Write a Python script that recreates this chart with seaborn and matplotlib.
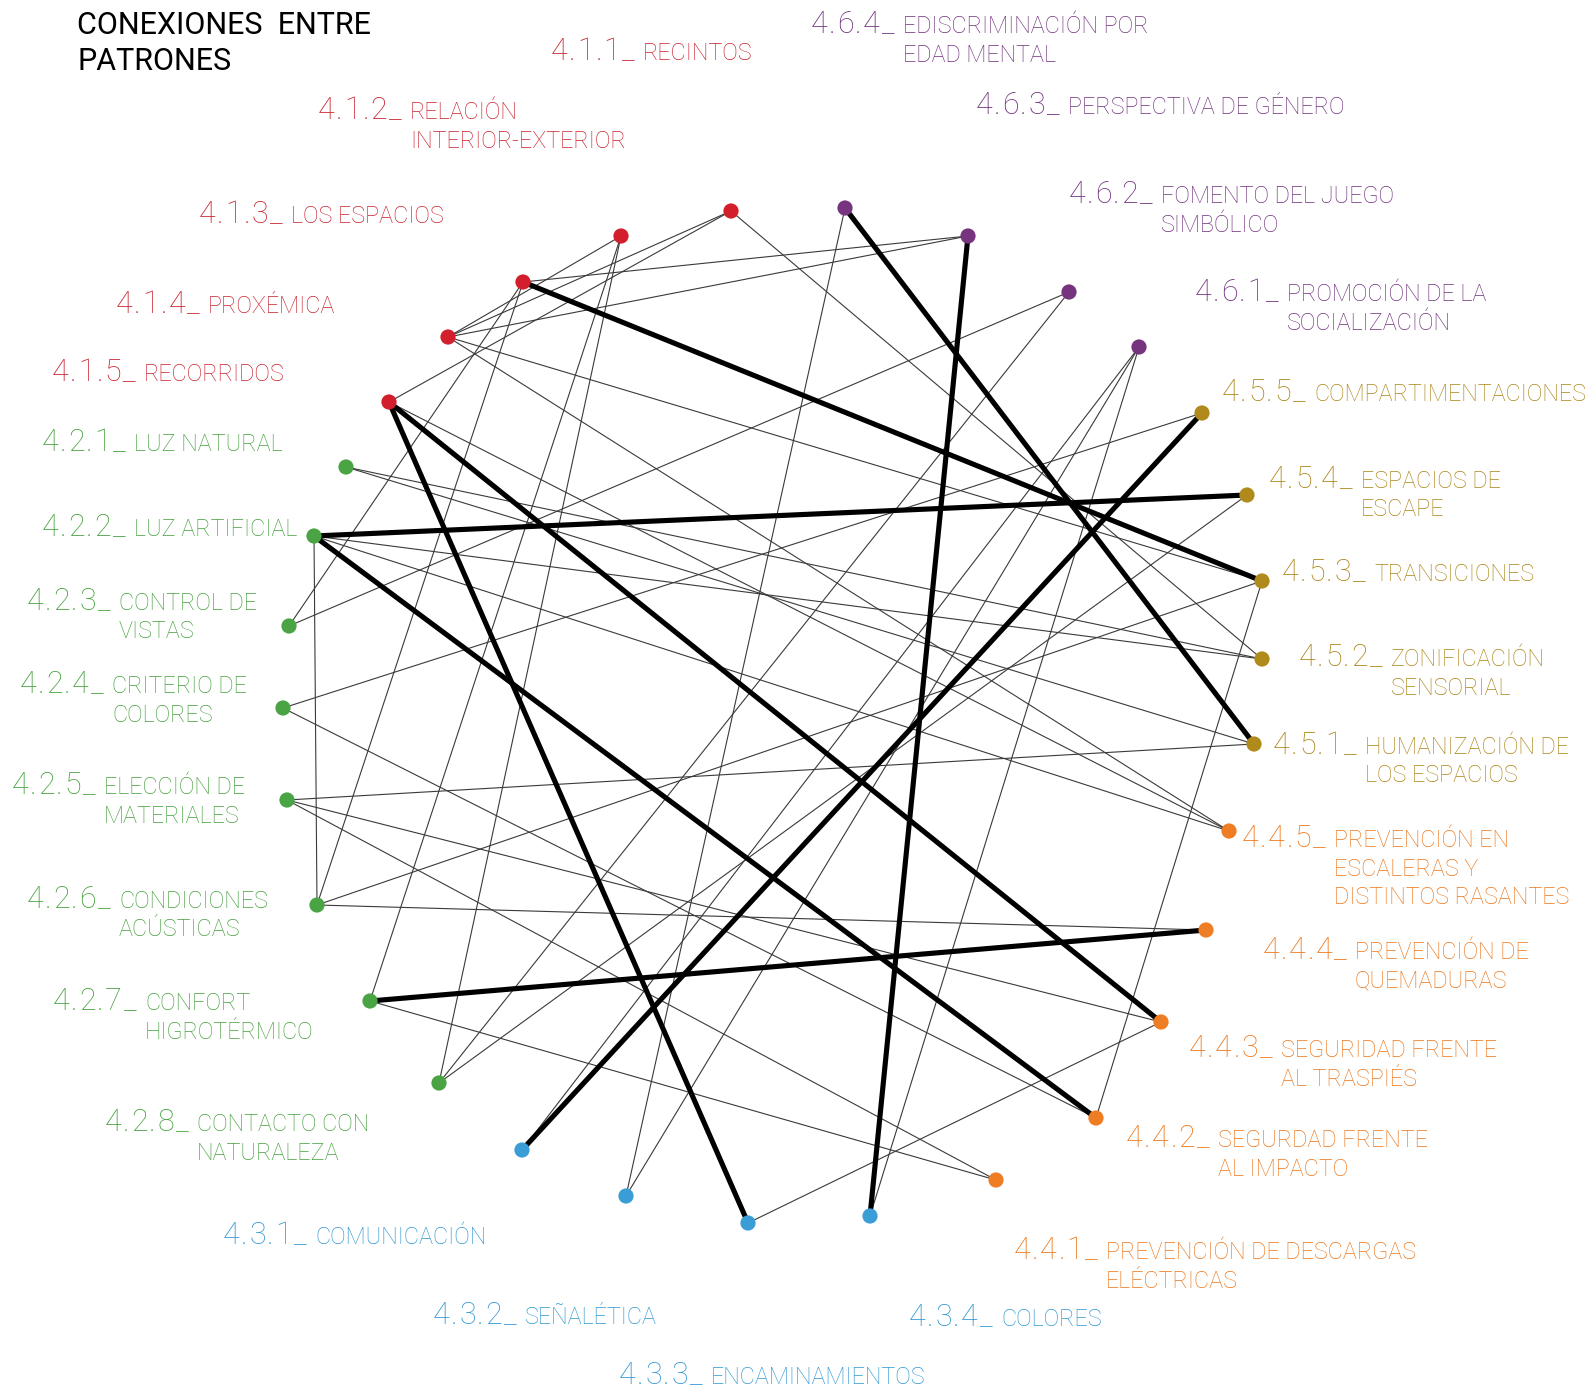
"""Circular network of design-pattern connections (CONEXIONES ENTRE PATRONES)."""

import matplotlib

matplotlib.use("Agg")
import matplotlib.pyplot as plt
import pandas as pd
import seaborn as sns

# --- data -------------------------------------------------------------------
codes = [
    "4.1.1", "4.1.2", "4.1.3", "4.1.4", "4.1.5",
    "4.2.1", "4.2.2", "4.2.3", "4.2.4", "4.2.5", "4.2.6", "4.2.7", "4.2.8",
    "4.3.1", "4.3.2", "4.3.3", "4.3.4",
    "4.4.1", "4.4.2", "4.4.3", "4.4.4", "4.4.5",
    "4.5.1", "4.5.2", "4.5.3", "4.5.4", "4.5.5",
    "4.6.1", "4.6.2", "4.6.3", "4.6.4",
]
names = [
    "RECINTOS", "RELACIÓN\nINTERIOR-EXTERIOR", "LOS ESPACIOS", "PROXÉMICA", "RECORRIDOS",
    "LUZ NATURAL", "LUZ ARTIFICIAL", "CONTROL DE\nVISTAS", "CRITERIO DE\nCOLORES",
    "ELECCIÓN DE\nMATERIALES", "CONDICIONES\nACÚSTICAS", "CONFORT\nHIGROTÉRMICO",
    "CONTACTO CON\nNATURALEZA",
    "COMUNICACIÓN", "SEÑALÉTICA", "ENCAMINAMIENTOS", "COLORES",
    "PREVENCIÓN DE DESCARGAS\nELÉCTRICAS", "SEGURDAD FRENTE\nAL IMPACTO",
    "SEGURIDAD FRENTE\nAL TRASPIÉS", "PREVENCIÓN DE\nQUEMADURAS",
    "PREVENCIÓN EN\nESCALERAS Y\nDISTINTOS RASANTES",
    "HUMANIZACIÓN DE\nLOS ESPACIOS", "ZONIFICACIÓN\nSENSORIAL", "TRANSICIONES",
    "ESPACIOS DE\nESCAPE", "COMPARTIMENTACIONES",
    "PROMOCIÓN DE LA\nSOCIALIZACIÓN", "FOMENTO DEL JUEGO\nSIMBÓLICO",
    "PERSPECTIVA DE GÉNERO", "EDISCRIMINACIÓN POR\nEDAD MENTAL",
]
# node positions (picture units, y grows downward)
node_x = [731, 621, 523, 448, 389, 346, 314, 289, 283, 287, 317, 370, 439,
          522, 626, 748, 870, 996, 1096, 1161, 1206, 1229, 1254, 1262, 1262,
          1247, 1202, 1139, 1069, 968, 845]
node_y = [211, 236, 282, 337, 402, 467, 536, 626, 708, 800, 905, 1001, 1083,
          1150, 1196, 1223, 1216, 1180, 1118, 1022, 930, 831, 744, 659, 581,
          495, 413, 347, 292, 236, 208]

thin_edges = [
    ("4.1.1", "4.1.4"), ("4.1.1", "4.1.5"), ("4.1.1", "4.5.2"),
    ("4.1.2", "4.1.4"), ("4.1.2", "4.2.7"), ("4.1.2", "4.2.8"),
    ("4.1.3", "4.6.3"), ("4.1.4", "4.6.3"), ("4.1.4", "4.5.3"), ("4.1.4", "4.4.5"),
    ("4.1.5", "4.4.5"), ("4.1.3", "4.2.3"), ("4.1.3", "4.2.6"), ("4.6.2", "4.2.3"),
    ("4.2.4", "4.5.5"), ("4.2.4", "4.4.2"), ("4.2.5", "4.5.1"), ("4.2.5", "4.4.3"),
    ("4.2.5", "4.4.1"), ("4.2.1", "4.5.2"), ("4.2.1", "4.5.1"), ("4.2.2", "4.5.2"),
    ("4.2.2", "4.4.5"), ("4.2.2", "4.2.6"), ("4.2.6", "4.4.4"), ("4.2.6", "4.5.3"),
    ("4.2.7", "4.4.1"), ("4.6.4", "4.3.2"), ("4.6.1", "4.3.4"), ("4.6.1", "4.3.1"),
    ("4.6.1", "4.3.2"), ("4.5.3", "4.4.2"), ("4.3.3", "4.4.3"), ("4.2.8", "4.5.4"),
    ("4.6.2", "4.2.8"),
]
thick_edges = [
    ("4.1.3", "4.5.3"), ("4.6.4", "4.5.1"), ("4.6.3", "4.3.4"), ("4.5.5", "4.3.1"),
    ("4.2.2", "4.5.4"), ("4.1.5", "4.4.3"), ("4.1.5", "4.3.3"), ("4.2.2", "4.4.2"),
    ("4.2.7", "4.4.4"),
]

group_names = ["4.1", "4.2", "4.3", "4.4", "4.5", "4.6"]
node_colors = ["#d21f2b", "#4aa444", "#3b9dd6", "#ee7d24", "#b08b1c", "#76347f"]
text_colors = ["#c9222e", "#44a03c", "#2f97d3", "#ec7619", "#ab8515", "#70307d"]

# --- label anchors (left end of the number, centre of first line) -----------
label_pos = {
    "4.1.1": (551, 52), "4.1.2": (318, 111), "4.1.3": (199, 215),
    "4.1.4": (116, 305), "4.1.5": (52, 373), "4.2.1": (42, 443),
    "4.2.2": (42, 528), "4.2.3": (27, 602), "4.2.4": (20, 685),
    "4.2.5": (12, 786), "4.2.6": (27, 900), "4.2.7": (53, 1002),
    "4.2.8": (105, 1123), "4.3.1": (223, 1236), "4.3.2": (433, 1316),
    "4.3.3": (619, 1376), "4.3.4": (909, 1318), "4.4.1": (1014, 1251),
    "4.4.2": (1126, 1139), "4.4.3": (1189, 1049), "4.4.4": (1263, 951),
    "4.4.5": (1242, 839), "4.5.1": (1273, 746), "4.5.2": (1299, 658),
    "4.5.3": (1282, 573), "4.5.4": (1269, 480), "4.5.5": (1222, 393),
    "4.6.1": (1195, 293), "4.6.2": (1069, 195), "4.6.3": (976, 106),
    "4.6.4": (811, 25),
}

nodes = pd.DataFrame({"code": codes, "name": names, "x": node_x, "y": node_y})
nodes["group"] = nodes["code"].str[:3]
pos = nodes.set_index("code")[["x", "y"]]


def edge_frame(edges):
    rows = []
    for i, (a, b) in enumerate(edges):
        for k, c in enumerate((a, b)):
            rows.append({"edge": i, "order": k, "x": pos.at[c, "x"], "y": pos.at[c, "y"]})
    return pd.DataFrame(rows)


sns.set_theme(style="white")
plt.rcParams["font.family"] = ["Roboto", "DejaVu Sans"]

fig = plt.figure(figsize=(15.85, 13.91), dpi=100)
ax = fig.add_axes([0, 0, 1, 1])
ax.set_xlim(0, 1585)
ax.set_ylim(1391, 0)
renderer = fig.canvas.get_renderer()

sns.lineplot(data=edge_frame(thin_edges), x="x", y="y", units="edge", estimator=None,
             sort=False, color="#3a3a3a", linewidth=0.8, ax=ax, zorder=1)
sns.lineplot(data=edge_frame(thick_edges), x="x", y="y", units="edge", estimator=None,
             sort=False, color="black", linewidth=3.7, ax=ax, zorder=2)
sns.scatterplot(data=nodes, x="x", y="y", hue="group", hue_order=group_names,
                palette=node_colors, s=120, edgecolor="none", legend=False, ax=ax, zorder=3)


def ink_width(s, **kw):
    t = ax.text(0, 0, s, **kw)
    w = t.get_window_extent(renderer).width
    t.remove()
    return w


def tracked_text(x, y, s, track, **kw):
    # spaced-out lettering: keep each glyph where it sits in the string, plus extra gap
    for k, ch in enumerate(s):
        xk = x + ink_width(s[:k + 1], **kw) - ink_width(ch, **kw) + k * track
        ax.text(xk, y, ch, ha="left", va="baseline", **kw)


tcol = dict(zip(group_names, text_colors))
num_kw = dict(fontsize=22, fontweight="light")
for code, name, grp in zip(nodes["code"], nodes["name"], nodes["group"]):
    lx, ly = label_pos[code]
    c = tcol[grp]
    tracked_text(lx, ly + 8, code + "_", 1.4, color=c, **num_kw)
    for j, line in enumerate(name.split("\n")):
        ax.text(lx + 92, ly + 8 + j * 28.5, line, fontsize=16.8, color=c,
                fontweight="light", ha="left", va="baseline")

ax.text(77, 26, "CONEXIONES  ENTRE", fontsize=22, color="black", ha="left", va="center")
ax.text(77, 61, "PATRONES", fontsize=22, color="black", ha="left", va="center")

ax.set_xlim(0, 1585)
ax.set_ylim(1391, 0)
ax.axis("off")

fig.savefig("out.png", dpi=100, facecolor="white")
